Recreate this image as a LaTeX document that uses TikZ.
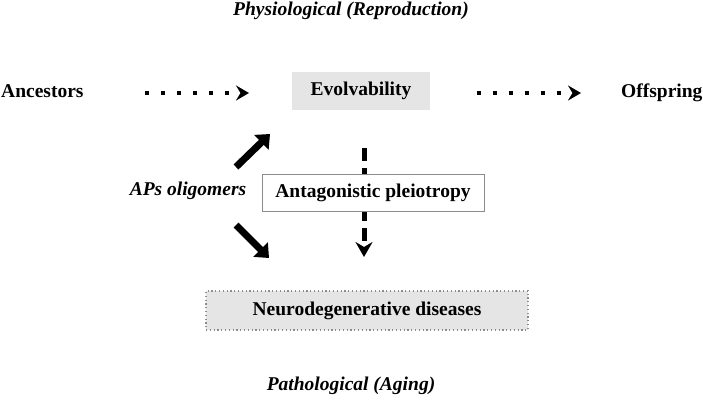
\documentclass[tikz,border=0pt]{standalone}
\usepackage{fontspec}
\setmainfont{Liberation Serif}
\usetikzlibrary{arrows.meta}
\begin{document}
\begin{tikzpicture}[x=1pt,y=-1pt,
  lbl/.style={font=\fontsize{19.5}{23}\selectfont\bfseries},
  ilbl/.style={font=\fontsize{19.5}{23}\selectfont\bfseries\itshape},
  dotarrow/.style={line width=4pt,dash pattern=on 4pt off 12pt,-{Stealth[length=13pt,width=15pt,inset=4.5pt]}},
  thickarrow/.style={line width=7pt,-{Triangle[length=12pt,width=20pt]}},
  dasharrow/.style={line width=5pt,dash pattern=on 13pt off 7pt,-{Stealth[length=15pt,width=17pt,inset=5pt]}}]
\useasboundingbox (0,0) rectangle (703,404);
\node[ilbl] (phys) at (351,11) {Physiological (Reproduction)};
\node[lbl,anchor=base west,inner sep=0pt] (anc) at (1,97) {Ancestors};
\node[lbl,fill=black!10,minimum width=138pt,minimum height=38pt] (evo) at (361,91) {Evolvability};
\node[lbl,anchor=base west,inner sep=0pt] (off) at (621,97) {Offspring};
\node[ilbl] (aps) at (188,191) {APs oligomers};
\node[lbl,draw=black!45,fill=black!10,line width=1.2pt,dash pattern=on 1.2pt off 2.6pt,minimum width=322pt,minimum height=39pt] (neuro) at (367,310.5) {Neurodegenerative diseases};
\node[ilbl] (path) at (351,386) {Pathological (Aging)};
\coordinate (d1s) at (145,93);
\coordinate (d1e) at (249,93);
\coordinate (d2s) at (477,93);
\coordinate (d2e) at (581,93);
\draw[dotarrow] (d1s) -- (d1e);
\draw[dotarrow] (d2s) -- (d2e);
\coordinate (u1) at (236,167);
\coordinate (u2) at (270,134);
\draw[thickarrow] (u1) -- (u2);
\coordinate (l1) at (236,225);
\coordinate (l2) at (269,258);
\draw[thickarrow] (l1) -- (l2);
\coordinate (v1) at (364,148);
\coordinate (v2) at (364,257);
\draw[dasharrow] (v1) -- (v2);
\node[lbl,draw=black!45,fill=white,line width=0.6pt,minimum width=222pt,minimum height=37pt] (ap) at (373,192.5) {Antagonistic pleiotropy};
\end{tikzpicture}
\end{document}
